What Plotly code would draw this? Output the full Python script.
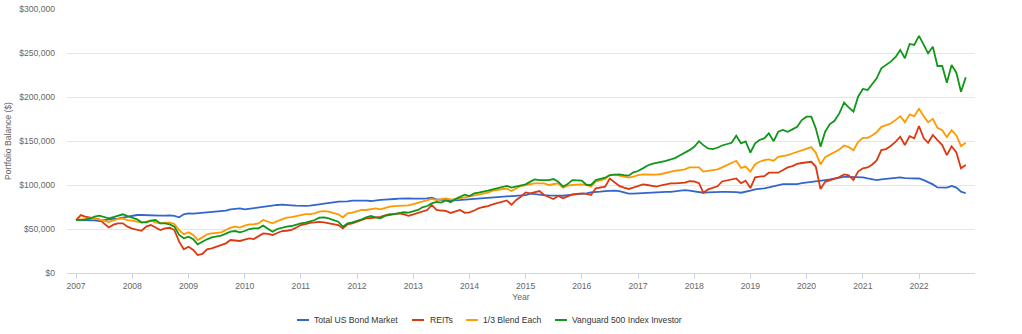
import pandas as pd
import plotly.graph_objects as go

# Monthly portfolio balances (thousands of $), Jan 2007 .. Nov 2022
start_month = "2007-01-01"
n_months = 191

bond = [
    60.2, 60.2, 59.8, 60.2, 59.8, 59.1, 60.2, 61.0, 61.4, 61.7, 62.9, 64.0,
    65.5, 65.9, 65.9, 65.5, 65.5, 65.5, 65.1, 65.1, 65.5, 64.8, 63.3, 66.7,
    67.8, 67.4, 67.8, 68.2, 68.2, 68.9, 69.3, 69.7, 70.8, 72.3, 73.1, 73.5,
    72.3, 73.1, 73.5, 73.9, 74.6, 75.8, 76.5, 77.3, 77.6, 77.6, 76.9, 76.5,
    76.2, 76.2, 76.5, 76.9, 78.0, 78.8, 79.2, 80.3, 81.0, 81.0, 81.4, 82.2,
    82.4, 82.5, 82.2, 81.8, 82.6, 83.0, 83.3, 84.1, 84.1, 84.5, 84.8, 84.8,
    84.5, 84.1, 84.5, 84.8, 85.6, 83.7, 83.0, 82.6, 82.2, 82.6, 83.0, 83.3,
    84.1, 84.5, 84.8, 85.2, 85.6, 86.0, 86.0, 86.4, 86.7, 87.1, 87.5, 87.8,
    88.6, 90.1, 89.4, 89.0, 88.6, 88.2, 87.8, 88.2, 87.8, 88.6, 89.0, 89.4,
    89.8, 90.5, 91.6, 91.6, 92.4, 93.1, 93.5, 93.5, 93.1, 91.6, 90.1, 90.1,
    90.5, 90.9, 91.2, 91.6, 91.6, 92.0, 92.3, 92.3, 93.1, 93.5, 94.2, 93.5,
    92.7, 92.0, 91.2, 91.6, 92.0, 92.3, 92.3, 92.3, 92.3, 92.0, 91.2, 92.0,
    93.5, 95.0, 95.4, 96.2, 97.3, 98.8, 99.9, 101.1, 101.1, 101.1, 101.1, 102.2,
    103.0, 103.7, 104.8, 105.6, 105.6, 106.3, 107.4, 108.6, 109.3, 109.3, 109.0, 108.6,
    108.6, 107.4, 106.3, 105.6, 106.3, 106.7, 107.4, 108.2, 108.6, 107.8, 107.4, 107.4,
    107.4, 105.6, 103.7, 100.7, 97.3, 97.3, 97.0, 98.9, 97.0, 92.4, 90.6,
]

reits = [
    60.2, 65.8, 64.0, 62.8, 62.0, 61.0, 56.4, 51.8, 54.9, 56.4, 56.4, 52.7,
    50.4, 49.6, 48.0, 52.7, 54.5, 51.8, 48.8, 50.7, 51.4, 48.8, 35.6, 26.9,
    29.9, 26.1, 20.4, 21.6, 26.9, 28.0, 29.9, 32.0, 33.7, 37.5, 37.0, 36.4,
    38.0, 39.4, 38.6, 42.0, 45.0, 44.5, 43.2, 45.5, 47.7, 48.0, 48.9, 51.5,
    54.5, 55.5, 57.0, 57.5, 58.0, 57.5, 56.3, 55.5, 54.5, 50.7, 55.3, 56.3,
    58.5, 60.5, 62.0, 62.5, 63.0, 63.8, 65.5, 66.8, 67.0, 67.8, 66.5, 65.0,
    66.5, 68.5, 70.0, 71.6, 77.3, 71.6, 71.0, 70.5, 68.2, 70.0, 71.6, 68.5,
    69.0, 71.0, 73.5, 75.0, 76.0, 78.0, 79.5, 81.0, 82.5, 77.5, 83.0, 86.7,
    91.6, 90.5, 92.0, 93.1, 88.6, 86.7, 84.0, 87.5, 84.9, 87.0, 89.4, 90.0,
    90.5, 90.0, 88.6, 96.2, 97.0, 98.0, 107.4, 103.6, 99.0, 97.0, 95.5, 97.0,
    99.0, 100.6, 100.0, 99.0, 98.1, 99.7, 101.1, 101.9, 101.9, 101.9, 102.6, 104.5,
    104.0, 102.0, 91.2, 95.0, 96.7, 98.5, 104.0, 105.0, 106.0, 107.4, 102.0, 105.0,
    96.5, 108.6, 109.4, 110.0, 114.0, 114.0, 114.0, 117.0, 120.0, 121.5, 124.0, 125.0,
    126.0, 126.4, 121.0, 95.4, 103.6, 105.6, 107.0, 109.0, 112.0, 111.0, 105.6, 115.3,
    119.0, 120.0, 123.0, 128.0, 139.7, 140.8, 144.3, 149.0, 154.9, 145.4, 155.5, 153.0,
    167.0, 153.0, 148.0, 156.8, 151.0, 145.4, 134.0, 144.0, 137.0, 119.0, 122.7,
]

blend = [
    60.2, 61.0, 61.7, 62.0, 61.7, 61.0, 59.5, 58.0, 59.5, 61.4, 62.0, 60.2,
    59.5, 58.3, 57.2, 58.3, 59.5, 57.6, 56.4, 57.2, 57.2, 55.7, 48.8, 44.0,
    46.2, 43.2, 37.5, 40.5, 44.0, 45.0, 45.2, 46.2, 48.9, 51.5, 52.6, 51.5,
    53.8, 55.3, 55.3, 56.4, 60.2, 58.3, 56.4, 59.0, 60.9, 62.9, 63.6, 64.8,
    65.9, 67.0, 67.0, 67.8, 69.7, 70.4, 69.7, 68.6, 66.7, 63.3, 67.8, 68.6,
    70.4, 71.6, 71.6, 72.7, 73.5, 72.3, 74.2, 75.4, 76.1, 76.1, 76.5, 76.9,
    78.4, 79.9, 81.4, 83.0, 84.1, 83.0, 83.7, 84.8, 83.7, 83.7, 84.8, 86.0,
    86.8, 88.3, 89.0, 90.5, 91.3, 93.5, 94.3, 95.8, 96.0, 93.1, 96.2, 98.8,
    100.0, 101.1, 101.9, 101.9, 101.9, 100.0, 100.8, 101.9, 97.0, 99.3, 100.0, 100.8,
    100.8, 100.0, 98.1, 103.8, 105.6, 106.8, 111.3, 112.1, 110.6, 109.1, 108.3, 109.4,
    111.3, 112.1, 112.1, 111.6, 111.7, 112.5, 113.9, 115.4, 116.2, 116.9, 117.7, 120.0,
    120.0, 120.0, 115.3, 116.0, 116.4, 117.7, 120.0, 122.7, 124.5, 127.5, 119.5, 121.0,
    115.3, 123.6, 126.4, 128.3, 129.0, 127.5, 132.0, 132.8, 133.9, 135.8, 137.7, 139.6,
    141.5, 143.0, 136.6, 123.4, 131.7, 134.7, 137.4, 140.4, 144.9, 143.0, 139.6, 148.7,
    153.6, 153.6, 156.3, 160.0, 166.1, 167.6, 169.9, 173.7, 178.2, 171.4, 180.1, 178.2,
    186.5, 178.2, 171.4, 175.2, 165.0, 162.3, 154.4, 162.3, 156.3, 144.2, 148.0,
]

sp500 = [
    60.2, 60.2, 60.6, 61.7, 64.0, 65.1, 64.0, 62.1, 63.6, 65.1, 66.7, 64.8,
    63.3, 61.0, 57.6, 57.6, 59.5, 60.2, 56.4, 56.4, 55.3, 52.7, 43.2, 39.4,
    41.3, 38.3, 32.6, 35.6, 38.3, 40.5, 41.2, 42.4, 44.7, 47.0, 47.7, 46.2,
    47.7, 50.0, 50.7, 50.7, 53.8, 50.7, 47.0, 50.0, 51.5, 52.6, 53.4, 55.3,
    56.4, 57.2, 58.3, 60.2, 62.9, 63.3, 62.1, 60.2, 58.3, 52.6, 56.4, 57.6,
    59.1, 61.0, 63.3, 64.8, 63.3, 62.1, 64.8, 65.9, 67.1, 68.6, 69.0, 68.6,
    69.7, 71.6, 74.6, 76.1, 79.1, 80.7, 80.0, 82.5, 80.5, 84.0, 86.5, 89.0,
    87.5, 90.5, 91.3, 92.0, 93.5, 95.0, 96.2, 97.3, 99.0, 97.0, 98.1, 100.0,
    100.8, 103.8, 106.4, 105.6, 105.6, 105.6, 106.8, 103.8, 98.1, 101.0, 105.6, 105.6,
    104.9, 100.0, 100.0, 105.6, 106.8, 108.3, 111.3, 112.1, 112.1, 111.3, 110.6, 114.4,
    115.9, 118.9, 121.9, 124.0, 125.0, 125.7, 127.5, 129.0, 130.9, 133.9, 136.6, 139.6,
    143.4, 149.8, 145.3, 141.6, 140.8, 142.3, 144.9, 146.1, 148.0, 156.0, 147.4, 149.5,
    136.9, 147.4, 151.2, 153.0, 158.7, 149.8, 160.5, 162.5, 160.5, 163.2, 166.2, 173.8,
    177.6, 177.6, 164.4, 143.6, 160.6, 169.3, 173.0, 181.4, 193.6, 188.3, 183.3, 200.4,
    209.1, 208.0, 213.7, 221.3, 232.6, 236.4, 240.2, 245.2, 253.5, 244.0, 260.3, 259.2,
    269.4, 259.2, 249.6, 257.2, 235.2, 235.2, 216.3, 236.3, 227.6, 206.0, 222.3,
]

series_names = ["Total US Bond Market", "REITs", "1/3 Blend Each", "Vanguard 500 Index Investor"]
series_values = [bond, reits, blend, sp500]
series_colors = ["#3366cc", "#dc3912", "#ff9900", "#109618"]

y_tick_values = [0, 50000, 100000, 150000, 200000, 250000, 300000]
y_tick_labels = ["$0", "$50,000", "$100,000", "$150,000", "$200,000", "$250,000", "$300,000"]

months = pd.date_range(start_month, periods=n_months, freq="MS")

# plot-area geometry (pixels) used to place the hand-made legend
W, H = 1022, 334
ML, MR, MT, MB = 67, 47, 9, 61
PW, PH = W - ML - MR, H - MT - MB

def px_x(p):
    return (p - ML) / PW

def px_y(p):
    return (H - MB - p) / PH

fig = go.Figure()
for name, vals, col in zip(series_names, series_values, series_colors):
    fig.add_trace(go.Scatter(
        x=months, y=[v * 1000 for v in vals], name=name, mode="lines",
        line=dict(color=col, width=1.8), showlegend=False,
    ))

# legend: short line symbol + label, laid out like the original
legend_sym_x = [297, 412, 466, 555]
legend_text_x = [312, 428, 481, 570]
legend_y = 320
for name, col, sx, tx in zip(series_names, series_colors, legend_sym_x, legend_text_x):
    fig.add_shape(type="line", xref="paper", yref="paper",
                  x0=px_x(sx), x1=px_x(sx + 12), y0=px_y(legend_y), y1=px_y(legend_y),
                  line=dict(color=col, width=2))
    fig.add_annotation(xref="paper", yref="paper", x=px_x(tx), y=px_y(legend_y),
                       xanchor="left", yanchor="middle", text=name, showarrow=False,
                       font=dict(size=8.6, color="#333333"))

font_family = "Liberation Sans, Arial, sans-serif"
fig.update_layout(
    width=W, height=H,
    margin=dict(l=ML, r=MR, t=MT, b=MB),
    paper_bgcolor="white", plot_bgcolor="white",
    font=dict(family=font_family, size=8.6, color="#666666"),
    showlegend=False,
    hovermode="x",
)
fig.update_xaxes(
    type="date", range=["2006-11-03", "2022-12-31"],
    tick0="2007-01-01", dtick="M12", tickformat="%Y",
    showgrid=False, showline=True, linecolor="#ccd6eb", linewidth=1,
    ticks="outside", ticklen=5, tickcolor="#ccd6eb",
    tickfont=dict(size=8.6, color="#666666"),
    title=dict(text="Year", font=dict(size=8.6, color="#666666"), standoff=3),
    zeroline=False, automargin=False,
)
fig.update_yaxes(
    range=[0, 300000], tickvals=y_tick_values, ticktext=y_tick_labels,
    showgrid=True, gridcolor="#e6e6e6", gridwidth=1,
    showline=False, zeroline=False, ticks="", ticklabelstandoff=11,
    tickfont=dict(size=8.6, color="#666666"),
    title=dict(text="Portfolio Balance ($)", font=dict(size=8.6, color="#666666"), standoff=6),
    automargin=False,
)

fig.write_html("out.html")
